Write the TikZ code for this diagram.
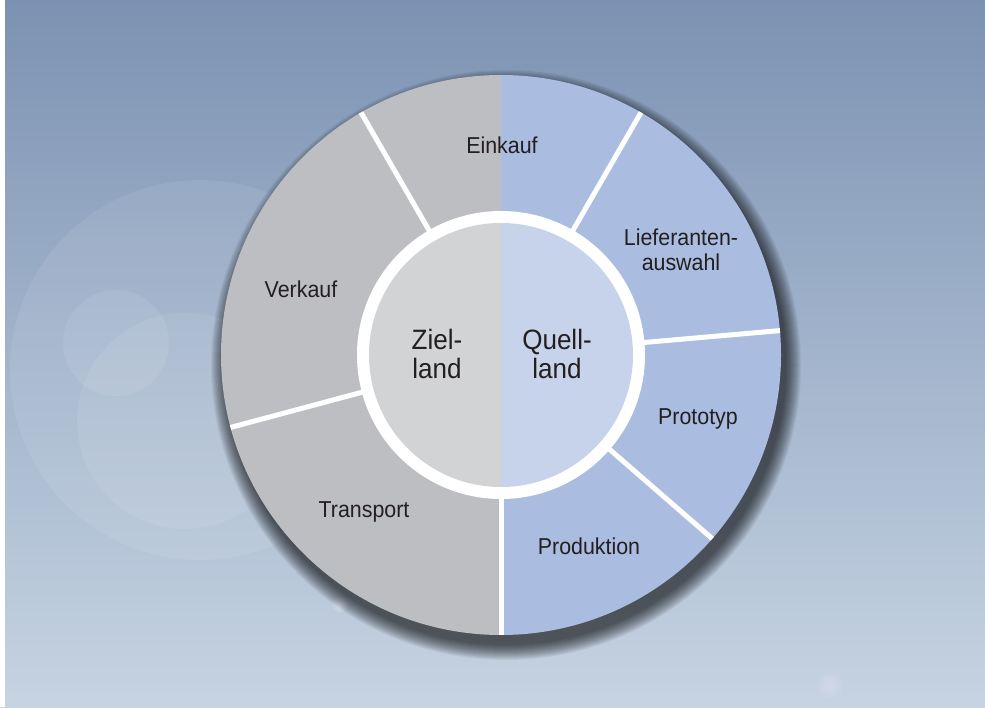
\documentclass[tikz,border=0pt]{standalone}
\usepackage{fontspec}
\setmainfont{Liberation Sans}
\newfontfamily\condfont[FakeStretch=0.93]{Liberation Sans}
\usetikzlibrary{calc}
\definecolor{bgtop}{RGB}{124,146,178}
\definecolor{bgmid}{RGB}{162,180,204}
\definecolor{bgbot}{RGB}{198,211,225}
\definecolor{outgray}{RGB}{189,190,194}
\definecolor{outblue}{RGB}{170,189,224}
\definecolor{ingray}{RGB}{210,211,213}
\definecolor{inblue}{RGB}{198,211,234}
\definecolor{txt}{RGB}{35,31,32}
\begin{document}
\begin{tikzpicture}[x=1pt,y=1pt,
  seglabel/.style={font=\condfont\fontsize{23}{25}\selectfont, text=txt, align=center, inner sep=0pt},
  centerlabel/.style={font=\condfont\fontsize{28}{29}\selectfont, text=txt, align=center, inner sep=0pt},
  sepline/.style={white, line width=5pt},
  bokeh/.style={white, opacity=0.08}]
\useasboundingbox (0,0) rectangle (985,707);
% background
\shade[top color=bgtop, bottom color=bgbot, middle color=bgmid] (0,0) rectangle (985,707);
\fill[bokeh] (200,337) circle (190);
\fill[bokeh] (116,364) circle (53);
\fill[bokeh] (185,286) circle (108);
\foreach \r in {1,...,8} {\fill[white, opacity=0.07] (340,102) circle (\r);}
\foreach \r in {2,4,...,14} {\fill[white, opacity=0.04] (830,22) circle (\r);}
\fill[white] (0,0) rectangle (5,707);
\coordinate (C) at (501,352);
% shadow
\foreach \r in {280,...,295} {\fill[black, opacity=0.05] ($(C)+(5,-10)$) circle (\r);}
% outer ring halves
\fill[outgray] (C) ++(90:280) arc[start angle=90, end angle=270, radius=280] -- cycle;
\fill[outblue] (C) ++(-90:280) arc[start angle=-90, end angle=90, radius=280] -- cycle;
% separators
\foreach \a in {60,120,195,270,319,5} {\draw[sepline] ($(C)+(\a:138)$) -- ($(C)+(\a:280)$);}
% inner ring
\fill[white] (C) circle (144);
\fill[ingray] (C) ++(90:132) arc[start angle=90, end angle=270, radius=132] -- cycle;
\fill[inblue] (C) ++(-90:132) arc[start angle=-90, end angle=90, radius=132] -- cycle;
% labels
\node[seglabel] (einkauf) at (502,562) {Einkauf};
\node[seglabel] (liefer) at (681,457) {Lieferanten-\\auswahl};
\node[seglabel] (verkauf) at (301,418) {Verkauf};
\node[seglabel] (transport) at (364,195) {Transport};
\node[seglabel] (produktion) at (589,161) {Produktion};
\node[seglabel] (prototyp) at (698,288) {Prototyp};
\node[centerlabel] (ziel) at (437,353) {Ziel-\\land};
\node[centerlabel] (quell) at (557,353) {Quell-\\land};
\end{tikzpicture}
\end{document}
